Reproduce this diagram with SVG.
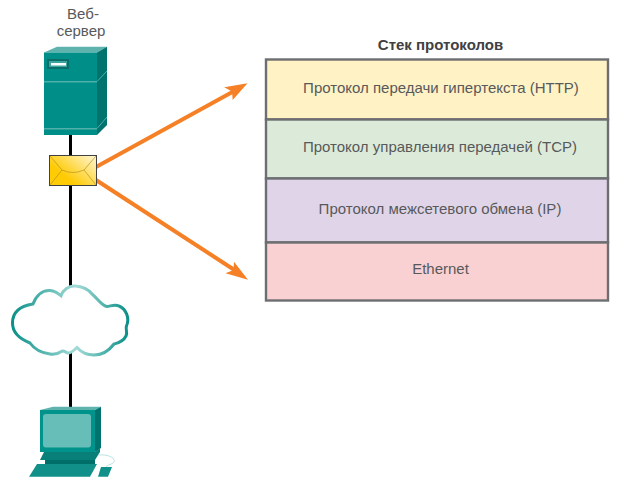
<svg xmlns="http://www.w3.org/2000/svg" width="624" height="496" viewBox="0 0 624 496">
<style>
text{font-family:"Liberation Sans",Arial,sans-serif;font-size:15px;fill:#58595b;text-anchor:middle}
.band{stroke:#6d6e71;stroke-width:2.4}
.arrow{fill:#f58025}
.shaft{stroke:#f58025;stroke-width:4;fill:none}
.wire{stroke:#000;stroke-width:3;fill:none}
</style>
<defs>
<linearGradient id="env" x1="0" y1="0.9" x2="1" y2="0.1"><stop offset="0.3" stop-color="#ffcb05"/><stop offset="1" stop-color="#fff4cc"/></linearGradient>
<linearGradient id="cl" x1="0" y1="0" x2="1" y2="0"><stop offset="0" stop-color="#0b9088"/><stop offset="0.55" stop-color="#a5dcd8"/><stop offset="1" stop-color="#0b9088"/></linearGradient>
</defs>
<g id="connectors">
<path class="wire" d="M70.500 130V155M70.500 185V288M70.500 350V408"/>
<path class="shaft" d="M96 167L236 90"/>
<path class="arrow" d="M247.500 83.300L224.300 87.300L232 91.500L232.700 100Z"/>
<path class="shaft" d="M96 180L236 271"/>
<path class="arrow" d="M248 279.800L234 261.700L233.500 270L225.500 273.300Z"/>
</g>
<g id="server">
<text x="83" y="19">Веб-</text>
<text x="81" y="36">сервер</text>
<path fill="#5fb3ae" d="M44 52.500L57 46.700H107L97 52.500Z"/>
<path fill="#00736e" d="M97 52.500L107 46.700V125L97 135Z"/>
<rect x="44" y="52.500" width="53" height="82.500" fill="#008f88"/>
<rect x="44" y="81" width="53" height="1.500" fill="#4fb0aa"/>
<rect x="44" y="128" width="53" height="1.500" fill="#4fb0aa"/>
<path stroke="#4fb0aa" stroke-width="1" fill="none" d="M97 81.500L107 71M97 128.500L107 117"/>
<rect x="47" y="59" width="22" height="10" fill="#0a6f6b"/>
<rect x="49" y="61" width="18" height="6" fill="#3da49e"/>
<rect x="51" y="63" width="15" height="2.500" fill="#fff"/>
</g>
<g id="envelope">
<rect x="49.500" y="155.500" width="47" height="30" fill="url(#env)" stroke="#414042"/>
<path fill="none" stroke="#b8931e" stroke-width=".7" d="M50 156L62 170Q73 175 84 170L96 156M50 185L62 170M96 185L84 170"/>
</g>
<g id="cloud">
<path fill="#fff" stroke="url(#cl)" stroke-width="3" d="M61 295.700C63 290 69 285.500 75 286C83 286.500 88 289 92 294C98 299 102 306 107 306.500C111 306 115 304 119 306C126 309 130 318 126.500 326C125 329 128 332 126 336C123 342 118 343 114 344C108 352 102 355 94 355C87 355 81 352 77 347.500C74 350 72 353 68 353C65 352 63 350 61.500 351.500C58 354 54 354.500 50 354C42 353 35 350 30 343C20 339 12.500 332 12.500 323C12.500 312 20 306 33 304C36 296 42 290 50 290.500C55 291 58 293 61 295.700Z"/>
</g>
<g id="pc">
<path fill="#5fb3ae" d="M40 410L53 406.700H101L95 410Z"/>
<path fill="#00736e" d="M95 410L101 406.700V448L95 452Z"/>
<rect x="40" y="410" width="55" height="42" fill="#00938b"/>
<rect x="43" y="414" width="48" height="33.500" rx="3" fill="#67bdb8"/>
<path fill="#087f78" d="M44 452H95L100 448V452L95 460H40Z"/>
<rect x="45" y="460" width="50" height="5" fill="#006f69"/>
<path fill="#109089" d="M37 464H97L90 476.700H29Z"/>
<path fill="#109089" d="M101 467H112L108 476.700H98Z"/>
<path fill="none" stroke="#a5dcd8" stroke-width=".8" d="M98 455C108 454 116 458 114 462C112 465 108 464 106 467"/>
</g>
<g id="stack">
<text x="440.500" y="50" style="font-weight:bold;fill:#414042">Стек протоколов</text>
<g id="http"><rect class="band" x="266" y="59.500" width="342" height="60" fill="#fff2c4"/><text x="441" y="93">Протокол передачи гипертекста (HTTP)</text></g>
<g id="tcp"><rect class="band" x="266" y="119.500" width="342" height="59" fill="#dcebd9"/><text x="440" y="152">Протокол управления передачей (TCP)</text></g>
<g id="ip"><rect class="band" x="266" y="178.500" width="342" height="64" fill="#e0d5e8"/><text x="440" y="214">Протокол межсетевого обмена (IP)</text></g>
<g id="ethernet"><rect class="band" x="266" y="242.500" width="342" height="58" fill="#f9d1d2"/><text x="440.500" y="274">Ethernet</text></g>
</g>
</svg>
